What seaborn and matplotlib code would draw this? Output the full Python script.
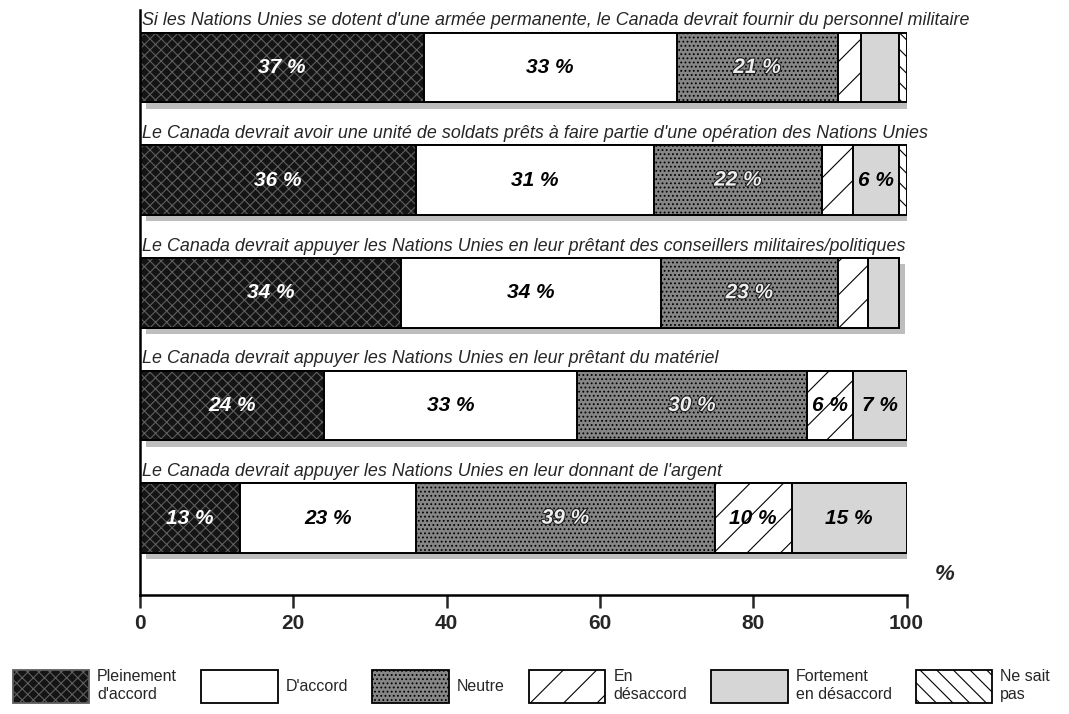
import numpy as np
import pandas as pd
import seaborn as sns
import matplotlib.pyplot as plt
import matplotlib.patheffects as pe
from matplotlib.patches import Patch

questions = [
    "Si les Nations Unies se dotent d'une armée permanente, le Canada devrait fournir du personnel militaire",
    "Le Canada devrait avoir une unité de soldats prêts à faire partie d'une opération des Nations Unies",
    "Le Canada devrait appuyer les Nations Unies en leur prêtant des conseillers militaires/politiques",
    "Le Canada devrait appuyer les Nations Unies en leur prêtant du matériel",
    "Le Canada devrait appuyer les Nations Unies en leur donnant de l'argent",
]
categories = ["Pleinement\nd'accord", "D'accord", "Neutre", "En\ndésaccord",
              "Fortement\nen désaccord", "Ne sait\npas"]

pleinement = [37, 36, 34, 24, 13]
accord = [33, 31, 34, 33, 23]
neutre = [21, 22, 23, 30, 39]
desaccord = [3, 4, 4, 6, 10]
fortement = [5, 6, 4, 7, 15]
nsp = [1, 1, 0, 0, 0]

series = [pleinement, accord, neutre, desaccord, fortement, nsp]
faces = ["#141414", "white", "#868686", "white", "#d6d6d6", "white"]
hatches = ["xxx", None, "....", "/", None, "\\\\"]
text_colors = ["white", "black", "#eeeeee", "black", "black", "black"]

sns.set_style("white")
plt.rcParams['font.family'] = ['Liberation Sans', 'DejaVu Sans']
plt.rcParams['hatch.linewidth'] = 0.8

df = pd.DataFrame(np.array(series).T, columns=categories)
df["question"] = questions
cum = df[categories].cumsum(axis=1)

fig = plt.figure(figsize=(10.69, 7.14), dpi=100)
ax = fig.add_axes([0.131, 0.167, 0.717, 0.819])

# shadow layer: full bar length, plain, with a drop shadow
sns.barplot(x=cum[categories[-1]], y=df["question"], orient="h",
            color="white", edgecolor="none", width=0.62,
            errorbar=None, saturation=1, ax=ax)
for p in ax.containers[0]:
    p.set_path_effects([pe.SimplePatchShadow(offset=(4.5, -4.5),
                                             shadow_rgbFace="0.74", alpha=1),
                        pe.Normal()])

# stacked bars drawn as overlays of cumulative totals, longest first
for i in reversed(range(1, len(categories))):
    sns.barplot(x=cum[categories[i]], y=df["question"], orient="h",
                color=faces[i], edgecolor="black", hatch=hatches[i],
                linewidth=1.4, width=0.62, errorbar=None, saturation=1,
                ax=ax)

# dark segment: speckle texture then a black outline on top
sns.barplot(x=cum[categories[0]], y=df["question"], orient="h",
            color=faces[0], edgecolor="#5e5e5e", hatch="xxx", linewidth=0,
            width=0.62, errorbar=None, saturation=1, ax=ax)
sns.barplot(x=cum[categories[0]], y=df["question"], orient="h",
            fill=False, color="black", edgecolor="black", linewidth=1.4,
            width=0.62, errorbar=None, saturation=1, ax=ax)

outline = [pe.withStroke(linewidth=1.6, foreground="#222222")]
for r in range(len(questions)):
    for c in range(len(categories)):
        v = series[c][r]
        if v >= 6:
            ax.text(cum.iloc[r, c] - v / 2, r, f"{v} %", ha="center",
                    va="center", fontsize=15, fontweight="bold",
                    style="italic", color=text_colors[c],
                    path_effects=outline if c == 2 else None)
    ax.text(0.3, r - 0.375, questions[r], ha="left", va="baseline",
            fontsize=12.9, style="italic", clip_on=False)

ax.set_xlim(0, 100)
ax.set_ylim(4.68, -0.51)
ax.set_ylabel("")
ax.set_xlabel("")
ax.set_yticks([])
ax.set_xticks(range(0, 101, 20))
ax.tick_params(axis="x", direction="out", length=9, width=1.8,
               labelsize=15, bottom=True, pad=5)
for lab in ax.get_xticklabels():
    lab.set_fontweight("bold")
for s in ["top", "right"]:
    ax.spines[s].set_visible(False)
for s in ["left", "bottom"]:
    ax.spines[s].set_linewidth(1.8)
    ax.spines[s].set_color("black")
ax.text(1.05, 0.035, "%", transform=ax.transAxes, fontsize=16,
        fontweight="bold", style="italic", ha="center", va="center")

handles = [Patch(facecolor=faces[i], edgecolor="black", hatch=hatches[i],
                 linewidth=1.3) for i in range(len(categories))]
handles[0] = Patch(facecolor=faces[0], edgecolor="#5e5e5e", hatch="xxx",
                   linewidth=1.3)
fig.legend(handles, categories, loc="lower center",
           bbox_to_anchor=(0.497, -0.005), ncol=6, frameon=False,
           handlelength=4.8, handleheight=2.8, columnspacing=1.5,
           handletextpad=0.5, fontsize=11.5)

fig.savefig("out.png", dpi=100)
